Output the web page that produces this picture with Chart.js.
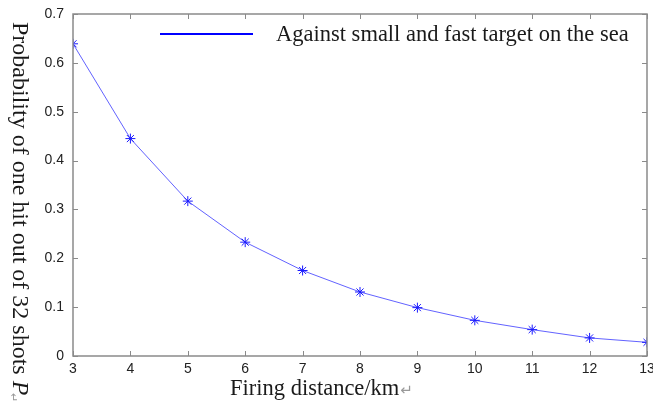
<!DOCTYPE html>
<html>
<head>
<meta charset="utf-8">
<script src="https://cdn.jsdelivr.net/npm/chart.js@4.4.1/dist/chart.umd.min.js"></script>
<style>
  html, body { margin: 0; padding: 0; background: #fff; }
  #wrap { width: 653px; height: 402px; }
</style>
</head>
<body>
<div id="wrap"><canvas id="hitChart" width="653" height="402"></canvas></div>
<script>
// data
const distances = [3, 4, 5, 6, 7, 8, 9, 10, 11, 12, 13]
const hitProb = [0.639, 0.445, 0.317, 0.233, 0.175, 0.131, 0.099, 0.073, 0.054, 0.037, 0.028]
const seriesName = "Against small and fast target on the sea"
const xTitle = "Firing distance/km"
const yTitle = "Probability of one hit out of 32 shots "

const axisGray = "#8a8a8a"
const serif = "'Liberation Serif', 'Times New Roman', serif"

// frame + inward ticks + titles + legend, matlab style
const framePlugin = {
  id: "frame",
  afterDraw(chart) {
    const { ctx, chartArea: a, scales } = chart
    ctx.save()
    ctx.strokeStyle = axisGray
    ctx.lineWidth = 1.5
    ctx.strokeRect(a.left, a.top, a.right - a.left, a.bottom - a.top)

    ctx.lineWidth = 1
    const tl = 5
    scales.x.ticks.forEach(t => {
      const px = Math.round(scales.x.getPixelForValue(t.value)) + 0.5
      ctx.beginPath()
      ctx.moveTo(px, a.bottom); ctx.lineTo(px, a.bottom - tl)
      ctx.moveTo(px, a.top); ctx.lineTo(px, a.top + tl)
      ctx.stroke()
    })
    scales.y.ticks.forEach(t => {
      const py = Math.round(scales.y.getPixelForValue(t.value)) + 0.5
      ctx.beginPath()
      ctx.moveTo(a.left, py); ctx.lineTo(a.left + tl, py)
      ctx.moveTo(a.right, py); ctx.lineTo(a.right - tl, py)
      ctx.stroke()
    })

    // legend
    ctx.strokeStyle = "#0000ff"
    ctx.lineWidth = 2
    ctx.beginPath()
    ctx.moveTo(160, 34); ctx.lineTo(253, 34)
    ctx.stroke()
    ctx.fillStyle = "#1a1a1a"
    ctx.font = "22.5px " + serif
    ctx.textBaseline = "alphabetic"
    ctx.textAlign = "left"
    ctx.fillText(seriesName, 276, 41)

    // x title
    ctx.fillText(xTitle, 230, 395)
    let w = ctx.measureText(xTitle).width
    ctx.fillStyle = "#999"
    ctx.font = "15px 'DejaVu Sans', sans-serif"
    ctx.fillText("\u21B5", 231 + w, 395)

    // y title, reads top to bottom
    ctx.translate(13, 22)
    ctx.rotate(Math.PI / 2)
    ctx.fillStyle = "#1a1a1a"
    ctx.font = "24px " + serif
    ctx.fillText(yTitle, 0, 0)
    w = ctx.measureText(yTitle).width
    ctx.font = "italic 24px " + serif
    ctx.fillText("P", w, 0)
    const wp = ctx.measureText("P").width
    ctx.fillStyle = "#999"
    ctx.font = "11px 'DejaVu Sans', sans-serif"
    ctx.fillText("\u21B5", w + wp - 2, 3)
    ctx.restore()
  },
}

const ctx = document.getElementById("hitChart").getContext("2d")
new Chart(ctx, {
  type: "line",
  data: {
    datasets: [
      {
        label: seriesName,
        data: distances.map((d, i) => ({ x: d, y: hitProb[i] })),
        borderColor: "rgba(70, 70, 255, 0.85)",
        borderWidth: 1,
        tension: 0,
        pointStyle: "star",
        pointRadius: 5,
        pointBorderColor: "#1a1aff",
        pointBorderWidth: 1,
        pointBackgroundColor: "#1a1aff",
        fill: false,
      },
    ],
  },
  options: {
    responsive: false,
    animation: false,
    layout: { padding: { left: 0, right: 2, top: 14, bottom: 0 } },
    plugins: {
      legend: { display: false },
      tooltip: { enabled: false },
    },
    scales: {
      x: {
        type: "linear",
        min: 3,
        max: 13,
        grid: { display: false, tickLength: 0 },
        border: { display: false },
        ticks: {
          stepSize: 1,
          padding: 5,
          color: "#222",
          font: { family: "'Liberation Sans', Arial, sans-serif", size: 14 },
        },
        afterFit(s) {
          s.height = 46
          s.paddingLeft = 0
          s.paddingRight = 0
        },
      },
      y: {
        min: 0,
        max: 0.7,
        grid: { display: false, tickLength: 0 },
        border: { display: false },
        ticks: {
          stepSize: 0.1,
          padding: 9,
          color: "#222",
          font: { family: "'Liberation Sans', Arial, sans-serif", size: 14 },
          callback: v => (Math.round(v * 10) / 10).toString(),
        },
        afterFit(s) {
          s.width = 73
          s.paddingTop = 0
          s.paddingBottom = 0
        },
      },
    },
  },
  plugins: [framePlugin],
})
</script>
</body>
</html>
